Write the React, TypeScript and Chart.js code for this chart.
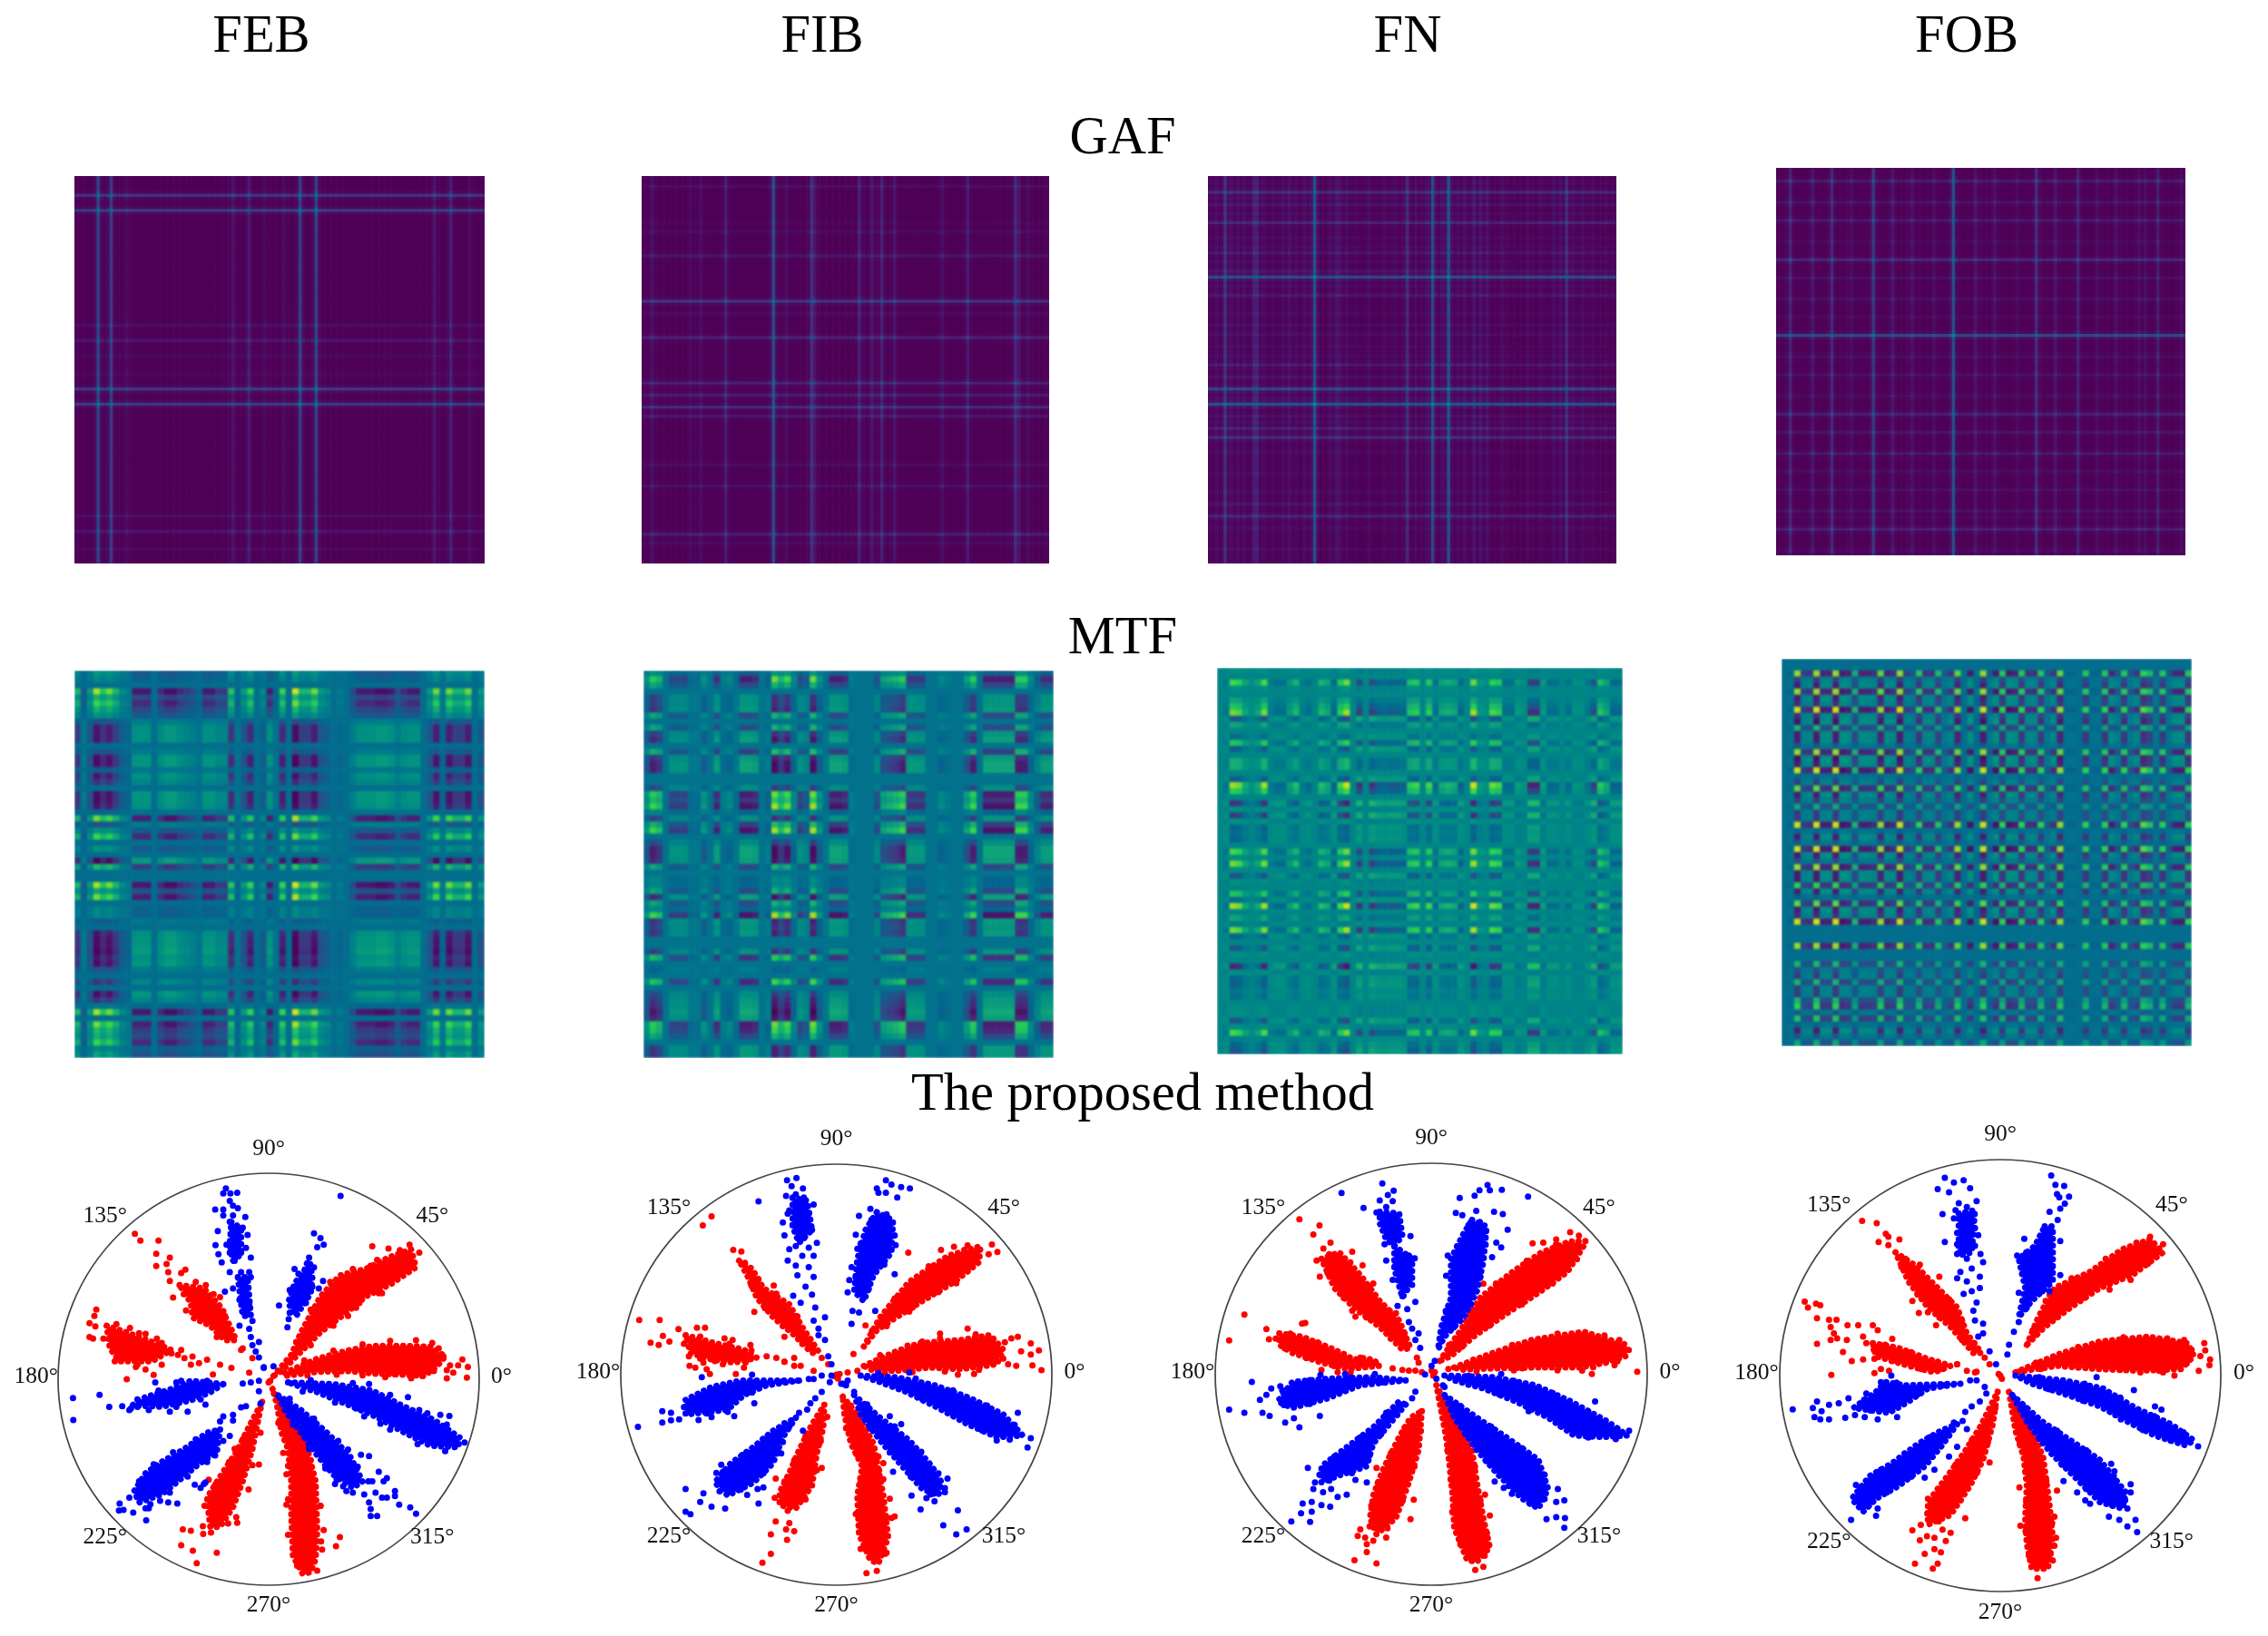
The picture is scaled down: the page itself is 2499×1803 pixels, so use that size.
import React, { useEffect, useRef } from "react";
import { Chart, registerables } from "chart.js";
Chart.register(...registerables);

type Pair = number[];
type Line = number[];

// ---- text -------------------------------------------------------------
const columnTitles = ["FEB", "FIB", "FN", "FOB"];
const rowTitles = ["GAF", "MTF", "The proposed method"];
const polarTickLabels = ["0°", "45°", "90°", "135°", "180°", "225°", "270°", "315°"];
const polarTickX = [1.105, 0.777, 0, -0.777, -1.105, -0.777, 0, 0.777];
const polarTickY = [0.01, 0.79, 1.118, 0.79, 0.01, -0.77, -1.098, -0.77];

// ---- GAF: [cell index of a bright line, strength], 128 x 128 cells ------
const GAF_SIZE = 128;
const gafGains = [0.85, 0.85, 1.1, 0.9];
const febGafCols: Line[] = [[7,.25],[11,.22],[16,.05],[49,.1],[54,.13],[59,.05],[65,.05],[70,.25],[75,.25],[112,.1],[117,.14],[123,.06]];
const febGafRows: Line[] = [[6,.2],[11,.22],[49,.07],[54,.1],[59,.04],[65,.04],[70,.22],[75,.22],[112,.07],[117,.1],[123,.04]];
const fibGafCols: Line[] = [[3,.08],[15,.04],[18,.06],[26,.13],[41,.27],[45,.06],[53,.18],[54,.1],[68,.14],[72,.1],[75,.14],[79,.1],[94,.08],[102,.12],[117,.16],[118,.1],[121,.05]];
const fibGafRows: Line[] = [[3,.06],[15,.03],[18,.05],[26,.1],[41,.2],[45,.05],[53,.14],[68,.14],[72,.12],[76,.16],[79,.1],[95,.06],[102,.08],[118,.13],[121,.05]];
const fnGafCols: Line[] = [[2,.04],[5,.14],[7,.05],[9,.05],[11,.05],[14,.1],[15,.1],[17,.04],[20,.03],[23,.04],[25,.06],[27,.03],[30,.04],[33,.22],[38,.04],[40,.07],[41,.05],[43,.04],[46,.02],[50,.04],[55,.03],[58,.03],[62,.12],[65,.03],[68,.04],[70,.2],[73,.05],[75,.22],[78,.04],[80,.06],[83,.08],[85,.07],[87,.06],[92,.04],[100,.03],[104,.03],[108,.05],[110,.05],[112,.12],[114,.04],[117,.04],[120,.03],[124,.02]];
const fnGafRows: Line[] = [[2,.03],[5,.12],[7,.03],[9,.06],[12,.03],[15,.1],[20,.03],[23,.03],[25,.07],[28,.03],[31,.06],[33,.2],[36,.03],[39,.07],[45,.03],[49,.03],[52,.04],[56,.03],[59,.03],[62,.08],[66,.05],[70,.18],[73,.03],[75,.22],[79,.05],[81,.03],[83,.09],[86,.12],[91,.03],[98,.03],[104,.03],[108,.05],[112,.1],[116,.03],[123,.03]];
const fobGafCols: Line[] = [[4,.14],[11,.1],[17,.15],[23,.06],[30,.2],[36,.1],[42,.08],[49,.06],[55,.27],[62,.09],[68,.08],[75,.05],[81,.16],[87,.09],[94,.13],[100,.06],[106,.07],[113,.07],[115,.06],[119,.12],[126,.04]];
const fobGafRows: Line[] = [[4,.11],[11,.08],[17,.1],[24,.04],[30,.14],[36,.06],[43,.06],[49,.03],[55,.24],[62,.06],[68,.07],[75,.05],[81,.12],[87,.08],[94,.1],[100,.05],[106,.06],[113,.07],[115,.03],[119,.12],[126,.04]];

// ---- MTF: signed brightness of every column / row (tenths), 64 x 64 cells
const febMtfCols = [5,-2,3,9,6,8,5,2,1,-6,-6,-6,0,-5,-7,-7,-5,-4,-3,-1,-6,-6,-4,-4,6,-1,3,7,0,2,-6,-1,7,0,10,5,5,8,3,2,0,1,0,-3,-6,-6,-6,-7,-7,-6,-3,-5,-6,-6,0,3,8,1,8,5,5,8,0,3];
const febMtfRows = [3,2,0,10,5,8,5,3,-3,-7,-7,-7,0,-3,-8,-8,-2,-7,-5,0,-8,-8,-7,-1,9,-3,3,8,0,3,0,-9,6,0,0,10,4,9,0,2,2,-2,0,-7,-8,-8,-9,-7,-8,-3,0,-5,0,-8,-5,1,10,0,9,6,5,8,2,4];
const fibMtfCols = [3,8,6,0,-5,-5,-5,-1,-1,3,0,-7,1,2,-1,-8,-8,-7,0,-2,10,6,9,2,-5,-3,10,3,-1,-8,-8,-7,1,0,0,0,-4,4,5,6,8,-6,-6,-6,0,0,2,1,0,0,4,8,0,-8,-8,-8,-8,-8,8,8,2,-3,-7,-7];
const fibMtfRows = [3,9,5,0,-6,-6,-7,5,0,5,-6,-8,0,6,-7,-9,-9,0,0,-5,9,7,10,2,-6,6,10,0,-5,-9,-9,-8,5,0,2,2,5,-8,5,2,10,-7,-6,-7,0,0,-6,7,0,-2,0,8,0,-5,-7,-8,-10,-8,9,8,5,0,-7,-7];
const fnMtfCols = [0,-2,9,8,3,1,3,9,-1,-3,-3,2,5,-1,-3,0,5,3,-4,7,10,0,-8,0,-8,-5,-4,-5,-5,-4,6,7,0,7,-3,3,4,3,-4,0,10,2,1,8,7,-3,-3,2,1,-9,-9,2,-3,-3,0,-3,1,1,-2,-7,6,3,-4,-4];
const fnMtfRows = [1,0,8,1,0,3,6,9,-6,3,0,-3,6,-5,0,4,4,0,-5,10,7,0,-9,1,-8,1,-4,-3,-4,0,8,1,9,1,-6,1,0,6,-3,10,0,3,-1,9,-4,0,-6,1,0,-10,1,-4,-5,-2,-3,0,1,1,-6,1,8,-1,-4,-6];
const fobMtfCols = [0,-1,10,-4,-5,10,-6,-6,10,-7,-6,5,-6,-6,-5,9,-6,-5,10,-4,-3,7,-5,-5,6,-2,-5,9,0,-7,1,10,-2,-7,7,-7,-6,7,-5,-5,7,-2,-5,9,-1,-1,0,7,-1,-1,7,-6,-3,7,-3,-5,8,6,-2,7,-2,-6,-6,7];
const fobMtfRows = [0,0,9,-4,-6,9,-6,-5,10,-5,-7,5,-6,-6,-2,9,-7,-6,10,-1,-4,8,-6,-4,4,-4,-4,10,-1,-6,-2,10,-6,-3,9,-6,-6,7,-6,-1,8,-6,-5,10,0,0,0,9,0,0,5,-3,-4,5,-4,-4,5,7,-2,6,-1,-6,-2,4];
const mtfBaseLevels = [0.37, 0.39, 0.46, 0.37];
const mtfGains = [1, 0.85, 0.8, 0.95];

// ---- scatter: unit circle spans +-rx, +-ry; shapes are dense cores, dots are single samples
const febRadius = [650, 635];
const febRedShapes: Pair[][] = [
 [[50,20],[150,63],[250,90],[330,103],[420,103],[500,100],[545,70],[520,40],[480,10],[400,15],[330,17],[250,25],[150,23],[50,10]],
 [[15,10],[70,75],[100,145],[160,255],[220,320],[300,340],[370,375],[440,400],[455,345],[380,295],[300,255],[240,205],[160,145],[100,85],[40,25]],
 [[12,-30],[50,-95],[110,-175],[145,-315],[150,-465],[145,-555],[130,-595],[105,-600],[75,-545],[70,-415],[70,-315],[60,-215],[40,-165],[25,-75]],
 [[-20,-70],[-30,-115],[-50,-215],[-80,-315],[-110,-395],[-150,-455],[-180,-455],[-185,-415],[-190,-365],[-140,-285],[-100,-225],[-60,-145]],
 [[-275,290],[-200,280],[-150,225],[-120,165],[-100,120],[-135,120],[-180,165],[-235,190],[-240,235]],
 [[-500,165],[-440,145],[-360,115],[-300,90],[-360,55],[-460,55],[-490,95]],
];
const febRedDots: Pair[] = [[598,61],[615,38],[585,43],[560,43],[550,28],[570,20],[612,5],[550,3],[525,95],[540,70],[510,25],[475,10],[390,15],[320,410],[370,403],[315,350],[435,415],[465,390],[350,265],[245,195],[280,235],[220,-487],[208,-515],[165,-525],[170,-465],[160,-390],[55,-387],[55,-293],[60,-267],[45,-227],[120,-200],[-265,-463],[-240,-467],[-203,-453],[-202,-477],[-178,-473],[-270,-512],[-234,-529],[-160,-535],[-222,-567],[-97,-443],[-30,-263],[-185,-310],[-105,-215],[-413,448],[-396,427],[-340,427],[-347,387],[-305,375],[-347,349],[-315,355],[-310,330],[-305,303],[-270,327],[-257,338],[-194,290],[-295,252],[-150,253],[-140,210],[-80,95],[-50,65],[-60,20],[-172,15],[-85,90],[-532,215],[-538,195],[-553,173],[-535,163],[-553,130],[-542,125],[-428,158],[-380,140],[-345,125],[-270,90],[-235,70],[-190,60],[-240,45],[-215,50],[-150,45],[-115,35],[-405,45],[-380,30],[-355,13],[-438,0],[-300,80],[-260,65],[0,-10],[5,-5]];
const febRedEdge: Pair[] = [[110,58],[200,88],[290,108],[375,118],[455,120],[505,112],[440,3],[360,6],[290,12],[210,14],[120,12],[85,115],[130,215],[190,300],[260,340],[335,368],[405,398],[420,340],[340,265],[270,220],[200,165],[130,105],[85,-150],[130,-250],[160,-390],[162,-500],[60,-480],[60,-370],[65,-265],[30,-135],[88,-575],[150,-590],[-25,-165],[-50,-265],[-62,-340],[-100,-425],[-125,-445],[-198,-390],[-165,-325],[-122,-255],[-80,-185],[-225,300],[-170,262],[-135,195],[-115,130],[-160,130],[-205,190],[-255,212],[-262,262],[-470,170],[-400,142],[-330,112],[-280,75],[-330,45],[-410,38],[-475,55],[-510,125]];
const febBlueShapes: Pair[][] = [
 [[60,-10],[200,-15],[320,-35],[420,-85],[510,-125],[590,-180],[585,-210],[500,-205],[420,-165],[330,-115],[260,-85],[150,-40]],
 [[30,-50],[100,-95],[180,-165],[250,-235],[290,-315],[260,-335],[200,-295],[150,-235],[100,-165],[50,-95]],
 [[-150,-155],[-160,-225],[-220,-265],[-280,-315],[-330,-355],[-400,-380],[-415,-345],[-380,-290],[-330,-255],[-260,-215],[-190,-165]],
 [[-140,-15],[-240,-5],[-300,-30],[-380,-55],[-420,-80],[-330,-85],[-240,-65],[-180,-40]],
 [[-115,485],[-85,465],[-85,385],[-110,365],[-120,415]],
 [[-95,315],[-65,315],[-55,195],[-80,195]],
 [[125,375],[135,315],[130,265],[85,195],[60,235],[80,295],[110,335]],
];
const febBlueDots: Pair[] = [[310,-15],[430,-55],[490,-105],[530,-110],[558,-113],[345,-137],[270,-90],[210,-310],[205,-323],[240,-345],[260,-350],[295,-355],[320,-315],[330,-350],[310,-380],[315,-400],[315,-422],[335,-422],[340,-285],[365,-305],[355,-315],[390,-345],[365,-365],[350,-365],[390,-360],[403,-387],[437,-395],[455,-415],[285,-233],[310,-237],[245,-217],[125,-205],[-460,-383],[-462,-405],[-448,-403],[-418,-411],[-380,-398],[-370,-398],[-378,-435],[-335,-375],[-282,-383],[-310,-380],[-228,-325],[-200,-323],[-195,-318],[-210,-335],[-140,-115],[-110,-110],[-110,-127],[-150,-130],[-120,-175],[-165,-235],[-604,-58],[-603,-126],[-522,-48],[-492,-85],[-452,-83],[-425,-90],[-405,-85],[-350,-10],[-285,-10],[-305,-100],[-250,-100],[-195,-78],[-80,-13],[-55,-10],[-30,-5],[-30,-37],[-15,35],[15,40],[-70,-83],[-85,-87],[-25,-75],[-132,588],[-140,573],[-118,573],[-97,575],[-120,550],[-110,535],[-95,527],[-165,523],[-140,523],[-140,505],[-110,505],[-72,500],[-120,485],[-157,457],[-100,467],[-80,467],[-115,450],[-65,445],[-100,435],[-164,413],[-130,415],[-100,410],[-70,405],[-155,385],[-120,390],[-85,390],[-55,375],[-145,360],[-105,365],[-120,330],[-85,330],[-60,330],[-80,305],[-55,315],[-110,280],[-135,270],[-80,275],[-90,245],[-60,230],[-75,205],[-50,180],[-90,165],[-60,155],[-55,130],[-30,115],[-50,105],[-40,85],[-30,67],[-15,37],[222,565],[140,450],[160,435],[150,407],[170,415],[80,340],[168,303],[155,280],[32,227],[62,185],[58,160],[80,215]];
const febBlueEdge: Pair[] = [[130,-3],[260,-12],[375,-48],[465,-95],[550,-140],[605,-195],[545,-222],[460,-200],[375,-155],[295,-115],[205,-72],[105,-38],[65,-60],[140,-122],[215,-190],[275,-270],[308,-315],[230,-330],[175,-275],[125,-215],[75,-140],[-140,-190],[-190,-255],[-250,-300],[-305,-350],[-365,-385],[-430,-365],[-400,-315],[-355,-262],[-295,-225],[-225,-185],[-190,-5],[-270,-5],[-340,-35],[-405,-62],[-430,-95],[-370,-95],[-285,-85],[-210,-62],[140,345],[135,285],[115,235],[65,205],[65,275],[92,325]];

const fibRadius = [665, 650];
const fibRedShapes: Pair[][] = [
 [[85,27],[185,72],[255,97],[385,107],[475,122],[515,77],[495,32],[385,17],[285,22],[185,12],[115,12]],
 [[85,87],[135,177],[225,287],[345,367],[445,397],[440,347],[365,287],[265,227],[185,177],[125,137]],
 [[20,-68],[65,-123],[115,-213],[145,-373],[160,-503],[130,-583],[105,-573],[70,-493],[65,-373],[80,-283],[45,-213],[25,-123]],
 [[-37,-93],[-40,-163],[-60,-243],[-75,-343],[-125,-413],[-175,-403],[-175,-363],[-145,-303],[-115,-233],[-75,-153]],
 [[-300,352],[-260,327],[-225,267],[-145,217],[-105,147],[-55,72],[-75,67],[-135,127],[-195,177],[-245,237],[-275,307]],
 [[-465,122],[-375,97],[-285,77],[-245,52],[-315,37],[-385,47],[-450,67]],
];
const fibRedDots: Pair[] = [[320,127],[405,142],[265,102],[540,112],[560,117],[600,97],[625,75],[570,72],[600,62],[605,29],[633,14],[555,27],[530,32],[425,2],[375,0],[225,7],[53,64],[65,12],[35,7],[222,377],[323,385],[363,395],[405,399],[480,402],[497,379],[90,152],[370,282],[235,207],[93,-613],[125,-606],[150,-553],[75,-538],[170,-443],[180,-438],[165,-383],[145,-273],[145,-323],[130,-253],[-187,-321],[-187,-453],[-145,-458],[-155,-478],[-130,-483],[-202,-493],[-152,-510],[-202,-553],[-228,-581],[-45,-288],[-385,489],[-412,461],[-318,385],[-293,380],[-193,275],[-253,194],[-160,117],[-45,52],[-25,32],[-70,12],[-130,27],[-160,40],[-130,52],[-110,27],[-608,169],[-545,169],[-573,99],[-548,92],[-535,120],[-515,102],[-487,141],[-430,145],[-405,145],[-345,112],[-320,107],[-265,92],[-453,27],[-435,22],[-410,37],[-390,2],[-400,17],[-375,42],[-310,2],[-285,22],[-215,57],[-185,52],[-160,40],[-455,57],[0,0],[10,2],[-5,-5],[5,-12]];
const fibRedEdge: Pair[] = [[135,60],[220,90],[320,112],[430,125],[520,100],[515,50],[440,15],[335,10],[235,8],[150,5],[110,135],[180,235],[285,335],[395,385],[470,372],[405,320],[315,255],[225,195],[155,150],[45,-95],[92,-170],[132,-295],[155,-440],[155,-550],[90,-535],[60,-430],[75,-330],[62,-245],[30,-165],[-28,-130],[-48,-205],[-60,-295],[-95,-385],[-150,-420],[-190,-380],[-160,-330],[-130,-265],[-95,-190],[-282,345],[-240,295],[-185,250],[-120,180],[-80,110],[-105,95],[-165,150],[-220,205],[-262,275],[-420,118],[-330,95],[-262,75],[-280,38],[-350,32],[-420,50],[-470,95]];
const fibBlueShapes: Pair[][] = [
 [[75,-3],[185,-8],[305,-33],[415,-73],[515,-123],[575,-188],[495,-193],[405,-153],[315,-103],[215,-53],[135,-23]],
 [[55,-63],[135,-133],[225,-203],[295,-283],[325,-333],[315,-373],[265,-353],[195,-273],[135,-203],[75,-123]],
 [[-125,-133],[-165,-193],[-195,-273],[-255,-333],[-335,-373],[-375,-333],[-325,-273],[-255,-223],[-195,-173]],
 [[-115,-18],[-215,-33],[-285,-63],[-335,-108],[-465,-123],[-465,-78],[-385,-38],[-295,-18]],
 [[-135,547],[-90,537],[-75,447],[-115,407],[-135,457]],
 [[125,502],[175,477],[170,377],[115,307],[85,227],[55,257],[65,357],[90,447]],
];
const fibBlueDots: Pair[] = [[560,-118],[600,-196],[590,-225],[495,-203],[225,7],[35,-18],[15,-28],[343,-321],[335,-363],[303,-391],[278,-381],[232,-373],[260,-416],[375,-419],[330,-465],[370,-493],[402,-478],[175,-300],[200,-153],[165,-128],[20,-28],[30,-33],[55,-53],[-355,-278],[-370,-303],[-465,-353],[-410,-366],[-420,-393],[-385,-408],[-343,-413],[-465,-423],[-450,-431],[-240,-398],[-243,-353],[-225,-348],[-275,-371],[-170,-243],[-165,-208],[-103,-173],[-80,-88],[-45,-53],[-65,-73],[-90,-108],[-115,-118],[-612,-161],[-537,-113],[-537,-148],[-510,-118],[-510,-141],[-485,-138],[-425,-140],[-385,-131],[-315,-128],[-253,-88],[-415,-8],[-260,0],[-70,-13],[-85,-13],[-45,-3],[-15,-3],[-20,-23],[-152,600],[-123,607],[-138,582],[-103,575],[-155,552],[-125,557],[-100,547],[-70,525],[-115,522],[-145,507],[-85,497],[-150,497],[-165,470],[-135,462],[-90,467],[-115,452],[-75,447],[-160,430],[-100,422],[-60,407],[-125,397],[-85,392],[-145,387],[-150,352],[-105,367],[-70,367],[-125,337],[-85,332],[-120,307],[-70,302],[-95,272],[-133,244],[-75,247],[-110,222],[-65,207],[-35,177],[-70,167],[-55,142],[-55,122],[-35,107],[-25,57],[-15,32],[-240,535],[153,600],[170,587],[125,575],[130,562],[153,562],[200,579],[227,575],[188,547],[105,512],[70,490],[60,432],[65,389],[183,400],[180,310],[40,292],[47,332],[35,254],[120,197],[50,197],[70,192],[47,157]];
const fibBlueEdge: Pair[] = [[130,5],[245,-12],[360,-48],[465,-95],[550,-155],[535,-200],[450,-172],[360,-125],[265,-75],[175,-35],[95,-92],[180,-160],[262,-238],[315,-305],[335,-350],[290,-370],[230,-315],[165,-240],[105,-165],[-145,-160],[-180,-230],[-225,-305],[-295,-355],[-360,-360],[-350,-300],[-290,-248],[-225,-198],[-160,-150],[-165,-20],[-250,-22],[-320,-42],[-400,-70],[-470,-100],[-400,-120],[-335,-115],[-260,-55],[155,495],[180,430],[148,340],[100,265],[60,300],[75,405],[108,478]];

const fnRadius = [667, 651];
const fnRedShapes: Pair[][] = [
 [[71,21],[191,66],[311,106],[471,131],[601,91],[601,56],[541,36],[461,21],[321,21],[191,18],[91,14]],
 [[26,41],[91,136],[151,236],[251,316],[341,376],[431,411],[471,396],[421,316],[331,251],[231,186],[131,116],[61,56]],
 [[16,-34],[71,-144],[126,-234],[141,-334],[161,-444],[181,-534],[141,-579],[111,-574],[71,-474],[66,-374],[56,-274],[46,-194]],
 [[-29,-114],[-39,-234],[-69,-334],[-109,-444],[-169,-494],[-189,-444],[-179,-374],[-149,-294],[-99,-194],[-64,-134]],
 [[-339,356],[-284,376],[-219,306],[-159,226],[-99,166],[-64,81],[-89,76],[-159,146],[-239,206],[-299,266]],
 [[-469,126],[-399,116],[-299,76],[-239,46],[-179,46],[-159,26],[-259,16],[-339,36],[-429,66],[-469,91]],
];
const fnRedDots: Pair[] = [[636,8],[496,1],[466,11],[566,28],[581,106],[53,16],[281,18],[429,438],[456,428],[476,411],[313,404],[346,406],[386,416],[161,279],[136,-604],[161,-594],[166,-372],[181,-436],[129,-217],[176,-529],[-219,-479],[-227,-499],[-204,-504],[-139,-504],[-179,-514],[-199,-524],[-199,-549],[-237,-574],[-169,-584],[-64,-447],[-54,-387],[-169,-289],[-407,478],[-345,459],[-364,431],[-311,406],[-333,388],[-244,378],[-212,336],[-179,280],[-344,301],[-354,351],[-234,178],[-244,196],[-109,188],[-44,51],[-39,36],[-577,184],[-509,139],[-501,108],[-624,104],[-399,156],[-389,158],[-339,13],[-289,6],[-249,6],[-119,18],[-89,13],[-69,11],[-49,11],[-29,6],[-219,51],[1,11],[11,6],[6,-4]];
const fnRedEdge: Pair[] = [[130,45],[250,90],[390,125],[535,120],[610,75],[575,40],[500,22],[390,12],[255,12],[140,8],[55,90],[120,190],[200,280],[295,350],[385,400],[455,410],[450,355],[375,280],[280,215],[180,150],[95,85],[42,-90],[100,-190],[135,-285],[152,-390],[172,-490],[165,-560],[90,-525],[65,-425],[60,-325],[50,-235],[-32,-175],[-52,-285],[-88,-390],[-135,-475],[-190,-470],[-185,-405],[-165,-335],[-125,-245],[-82,-165],[-315,370],[-250,345],[-190,268],[-128,195],[-82,125],[-125,110],[-200,175],[-270,235],[-320,312],[-435,125],[-350,98],[-270,62],[-210,50],[-300,25],[-385,50],[-452,80],[-480,110]];
const fnBlueShapes: Pair[][] = [
 [[41,-4],[191,-9],[321,-34],[431,-84],[541,-144],[606,-189],[531,-194],[441,-189],[361,-134],[261,-84],[161,-44],[71,-19]],
 [[41,-64],[141,-134],[231,-194],[331,-264],[361,-354],[331,-414],[281,-384],[201,-304],[141,-234],[71,-134]],
 [[-79,-94],[-129,-154],[-179,-214],[-199,-284],[-289,-314],[-339,-334],[-339,-284],[-259,-224],[-179,-164],[-99,-84]],
 [[-79,-19],[-219,-34],[-319,-74],[-429,-104],[-474,-84],[-429,-24],[-319,-14],[-179,-9]],
 [[-159,501],[-99,496],[-89,426],[-114,396],[-139,416],[-159,466]],
 [[-114,396],[-59,356],[-59,286],[-89,236],[-114,326]],
 [[126,476],[171,456],[161,346],[141,256],[101,176],[41,116],[21,76],[31,146],[61,236],[61,356],[101,436]],
];
const fnBlueDots: Pair[] = [[611,-174],[301,-114],[506,-84],[216,1],[391,-354],[411,-389],[386,-394],[356,-447],[386,-441],[413,-444],[411,-474],[196,-331],[224,-351],[249,-369],[131,-217],[41,-39],[36,-34],[-381,-289],[-359,-334],[-364,-354],[-334,-364],[-309,-354],[-289,-379],[-261,-372],[-339,-404],[-312,-409],[-369,-394],[-397,-399],[-402,-429],[-369,-424],[-432,-454],[-374,-456],[-234,-326],[-199,-334],[-139,-119],[-59,-74],[-49,-54],[-554,-24],[-624,-109],[-577,-119],[-521,-119],[-499,-129],[-451,-149],[-407,-164],[-424,-136],[-344,-129],[-529,-79],[-509,-64],[-494,-44],[-466,-37],[-342,-2],[-266,1],[-174,1],[-151,589],[-116,566],[-134,553],[-159,536],[-119,534],[-209,513],[-169,499],[-139,516],[-64,426],[-144,401],[-69,366],[-51,358],[-139,351],[-109,341],[-89,326],[-64,316],[-119,291],[-84,286],[-59,276],[-89,241],[-49,223],[-104,211],[-74,201],[-69,161],[-59,141],[-39,126],[-49,106],[-34,81],[-277,559],[174,584],[149,568],[218,569],[181,568],[134,551],[88,544],[299,548],[139,504],[76,498],[96,491],[194,501],[221,494],[236,446],[201,406],[216,391],[188,361],[46,304],[51,366],[11,41],[1,26],[-19,-1],[16,-14]];
const fnBlueEdge: Pair[] = [[115,-5],[255,-20],[375,-58],[485,-115],[575,-168],[570,-200],[485,-195],[400,-160],[310,-108],[210,-62],[115,-32],[90,-98],[185,-162],[280,-228],[350,-310],[350,-385],[305,-400],[240,-345],[170,-268],[105,-185],[-105,-125],[-155,-185],[-190,-250],[-245,-305],[-315,-328],[-345,-310],[-300,-255],[-220,-195],[-140,-125],[-150,-25],[-270,-50],[-375,-92],[-455,-95],[-460,-50],[-375,-18],[-250,-10],[150,470],[168,400],[152,300],[122,215],[70,145],[45,195],[62,295],[80,395],[115,460]];

const fobRadius = [680, 666];
const fobRedShapes: Pair[][] = [
 [[47,10],[177,65],[307,105],[457,120],[577,100],[597,60],[557,20],[427,15],[307,20],[177,30],[77,15]],
 [[82,95],[117,180],[167,270],[277,320],[377,390],[462,420],[502,380],[407,310],[307,270],[217,210],[137,150]],
 [[27,-50],[87,-140],[132,-250],[152,-400],[162,-500],[147,-595],[97,-595],[82,-520],[77,-440],[82,-340],[72,-250],[47,-170]],
 [[-8,-50],[-23,-150],[-53,-260],[-93,-340],[-153,-430],[-223,-460],[-223,-390],[-163,-310],[-113,-240],[-63,-160]],
 [[-323,380],[-263,340],[-183,260],[-133,210],[-103,130],[-58,70],[-83,70],[-153,150],[-223,210],[-283,290]],
 [[-393,100],[-313,85],[-233,55],[-153,30],[-203,10],[-283,30],[-383,60]],
];
const fobRedDots: Pair[] = [[629,100],[632,78],[617,60],[647,50],[645,32],[612,15],[567,110],[537,0],[502,10],[432,10],[502,405],[462,428],[402,295],[337,265],[187,260],[152,250],[115,-625],[172,-500],[167,-525],[167,-435],[175,-355],[59,-345],[62,-463],[162,-570],[-271,-477],[-245,-460],[-226,-495],[-248,-508],[-203,-500],[-178,-475],[-153,-485],[-168,-510],[-203,-535],[-233,-550],[-183,-545],[-263,-580],[-208,-595],[-193,-580],[-108,-440],[-163,-320],[-33,-268],[-223,-380],[-426,477],[-381,470],[-353,437],[-345,428],[-311,420],[-375,412],[-345,402],[-188,305],[-248,342],[-271,230],[-251,193],[-223,195],[-198,155],[-48,55],[-33,35],[-73,12],[-133,35],[-103,15],[-603,228],[-593,210],[-568,222],[-555,217],[-565,177],[-528,172],[-505,172],[-523,150],[-513,130],[-523,110],[-503,115],[-565,98],[-471,155],[-438,155],[-393,155],[-378,140],[-473,110],[-423,120],[-413,100],[-485,73],[-458,45],[-423,50],[-388,52],[-333,113],[-368,20],[-388,8],[-521,2],[-343,15],[-133,35],[-78,10],[0,0],[5,-10],[-5,5]];
const fobRedEdge: Pair[] = [[110,40],[240,88],[380,118],[515,115],[590,80],[575,38],[490,15],[370,18],[240,25],[125,20],[100,140],[140,230],[220,300],[325,360],[420,410],[455,345],[355,290],[260,240],[175,180],[110,125],[60,-95],[112,-195],[142,-325],[160,-455],[155,-550],[88,-555],[78,-480],[80,-390],[78,-295],[60,-210],[-15,-100],[-38,-205],[-72,-300],[-122,-385],[-190,-450],[-225,-425],[-192,-350],[-138,-275],[-88,-200],[-293,360],[-225,300],[-158,235],[-118,170],[-80,100],[-118,110],[-188,180],[-255,250],[-305,335],[-355,95],[-275,72],[-193,42],[-178,20],[-243,20],[-333,45],[-390,80]];
const fobBlueShapes: Pair[][] = [
 [[47,0],[197,-15],[317,-40],[417,-100],[527,-150],[597,-200],[572,-215],[477,-185],[407,-150],[307,-95],[207,-60],[97,-25]],
 [[37,-60],[127,-140],[217,-200],[307,-260],[387,-360],[377,-410],[307,-390],[227,-310],[157,-240],[87,-150]],
 [[-133,-150],[-183,-220],[-233,-280],[-313,-340],[-383,-380],[-423,-420],[-458,-380],[-403,-310],[-333,-270],[-253,-210],[-183,-170]],
 [[-123,-25],[-223,-40],[-283,-80],[-343,-115],[-453,-100],[-383,-50],[-353,-20],[-293,-30]],
 [[-128,500],[-78,510],[-88,380],[-128,370]],
 [[137,460],[162,460],[162,380],[162,290],[97,230],[57,180],[77,270],[57,360],[107,400]],
];
const fobBlueDots: Pair[] = [[610,-218],[412,-45],[372,-135],[477,-95],[497,-105],[297,-5],[342,-272],[352,-295],[402,-335],[402,-360],[417,-445],[422,-483],[392,-465],[367,-445],[335,-435],[262,-385],[277,-395],[237,-360],[195,-325],[392,-410],[-460,-445],[-383,-432],[-378,-410],[-445,-337],[-233,-315],[-203,-290],[-158,-250],[-133,-220],[-116,-140],[-143,-145],[-103,-165],[-108,-112],[-88,-95],[-63,-80],[-43,-55],[-48,-35],[-73,-15],[-93,-15],[-640,-104],[-578,-100],[-565,-80],[-573,-128],[-551,-110],[-555,-135],[-528,-135],[-528,-90],[-498,-85],[-478,-130],[-448,-122],[-418,-128],[-378,-135],[-318,-128],[-336,0],[-368,-20],[-468,-70],[-413,-55],[-171,610],[-113,602],[-193,575],[-158,565],[-143,595],[-93,578],[-128,532],[-73,538],[-178,498],[-138,510],[-103,520],[-83,500],[-143,485],[-103,480],[-78,455],[-133,440],[-68,433],[-171,412],[-133,405],[-98,415],[-78,400],[-133,375],[-61,375],[-103,360],[-53,350],[-123,320],[-88,330],[-63,305],[-133,300],[-103,290],[-63,270],[-113,252],[-88,260],[-73,225],[-83,200],[-53,160],[-78,170],[-53,130],[-68,120],[-33,75],[-13,35],[157,617],[170,588],[197,585],[175,560],[212,552],[182,550],[199,530],[185,515],[152,505],[177,480],[185,415],[74,422],[52,370],[185,310],[57,255],[42,135],[27,95],[22,65],[57,165],[82,210],[152,260]];
const fobBlueEdge: Pair[] = [[120,-5],[260,-25],[370,-68],[475,-125],[565,-175],[525,-200],[440,-168],[355,-122],[255,-78],[150,-42],[80,-100],[175,-170],[265,-230],[350,-310],[385,-385],[345,-400],[265,-350],[190,-275],[120,-195],[-158,-185],[-210,-250],[-275,-312],[-350,-360],[-405,-400],[-432,-345],[-368,-290],[-295,-240],[-218,-190],[-175,-30],[-255,-58],[-315,-98],[-400,-108],[-420,-75],[-368,-35],[-320,-22],[150,420],[160,335],[130,260],[78,205],[68,315],[80,380]];

// ---- page layout (left, top, right, bottom in page pixels) ---------------
const gafBoxes = [[82,194,534,621],[707,194,1156,621],[1331,194,1781,621],[1957,185,2408,612]];
const mtfBoxes = [[82,739,534,1166],[709,739,1161,1166],[1341,736,1788,1162],[1963,726,2415,1153]];
const polarCentres = [[296,1520],[921,1515],[1577,1514],[2204,1516]];
const polarPixelsPerUnit = 1 / 2.8;
const polarPad = 72;
const titleFont = "'Liberation Serif', serif";

// ---- colour map (image rendering) ----------------------------------------
const colourStops = [[0,78,0,86],[.08,76,16,104],[.15,72,40,122],[.25,40,78,136],[.33,5,100,142],[.42,0,122,140],[.5,0,145,130],[.6,20,170,118],[.75,40,212,80],[.88,190,225,25],[1,253,231,30]];
const colourLut: string[] = [];
for (let k = 0; k <= 255; k++) {
  const t = k / 255;
  let n = 1;
  while (n < colourStops.length - 1 && colourStops[n][0] < t) n++;
  const a = colourStops[n - 1], b = colourStops[n];
  const f = (t - a[0]) / (b[0] - a[0]);
  colourLut.push(`rgb(${Math.round(a[1] + (b[1] - a[1]) * f)},${Math.round(a[2] + (b[2] - a[2]) * f)},${Math.round(a[3] + (b[3] - a[3]) * f)})`);
}
const colourOf = (v: number) => colourLut[Math.max(0, Math.min(255, Math.round(v * 255)))];

function profileFromLines(lines: Line[], gain: number) {
  const out = new Array(GAF_SIZE).fill(0);
  lines.forEach(([i, s]) => {
    out[i] = Math.max(out[i], s * gain);
    if (i > 0) out[i - 1] = Math.max(out[i - 1], s * gain * 0.2);
    if (i < GAF_SIZE - 1) out[i + 1] = Math.max(out[i + 1], s * gain * 0.2);
  });
  return out;
}
const gafTable = (cols: Line[], rows: Line[], gain: number) => {
  const c = profileFromLines(cols, gain), r = profileFromLines(rows, gain);
  return { size: GAF_SIZE, blur: 0.7, value: (i: number, j: number) => c[i] + r[j] };
};
const mtfTable = (cols: number[], rows: number[], base: number, gain: number) => ({
  size: cols.length,
  blur: 1.2,
  value: (i: number, j: number) => {
    const p = (cols[i] / 10) * (rows[j] / 10);
    const k = p > 0 ? (cols[i] < 0 ? 0.3 : 0.55) : 0.45;
    return base + gain * k * p;
  },
});

function Heatmap({ box, table }: { box: number[]; table: { size: number; blur: number; value: (i: number, j: number) => number } }) {
  const ref = useRef<HTMLCanvasElement>(null);
  const w = box[2] - box[0], h = box[3] - box[1];
  useEffect(() => {
    const n = table.size;
    const data: { x: number; y: number }[] = [];
    const colours: string[] = [];
    for (let j = 0; j < n; j++) for (let i = 0; i < n; i++) {
      data.push({ x: i + 0.5, y: j + 0.5 });
      colours.push(colourOf(table.value(i, j)));
    }
    const side = Math.max(w, h) / n + 0.6;
    const chart = new Chart(ref.current!, {
      type: "scatter",
      data: { datasets: [{ data, pointStyle: "rect", pointRadius: side / Math.SQRT2, pointBorderWidth: 0, pointBackgroundColor: colours, parsing: false, normalized: true } as any] },
      options: {
        animation: false, responsive: false, events: [], layout: { padding: 0, autoPadding: false },
        plugins: { legend: { display: false }, tooltip: { enabled: false } },
        scales: { x: { display: false, min: 0, max: n }, y: { display: false, min: 0, max: n, reverse: true } },
      },
    });
    return () => chart.destroy();
  }, []);
  return (
    <div style={{ position: "absolute", left: box[0], top: box[1], width: w, height: h, overflow: "hidden" }}>
      <canvas ref={ref} width={w} height={h} style={{ display: "block", width: w, height: h, filter: `blur(${table.blur}px)` }} />
    </div>
  );
}

const toPoints = (list: Pair[]) => list.map(([x, y]) => ({ x, y }));

function Polar({ centre, radius, redShapes, redDots, blueShapes, blueDots }: { centre: number[]; radius: number[]; redShapes: Pair[][]; redDots: Pair[]; blueShapes: Pair[][]; blueDots: Pair[] }) {
  const ref = useRef<HTMLCanvasElement>(null);
  const areaW = Math.round(radius[0] * 2 * polarPixelsPerUnit), areaH = Math.round(radius[1] * 2 * polarPixelsPerUnit);
  const W = areaW + polarPad * 2, H = areaH + polarPad * 2;
  useEffect(() => {
    const shape = (s: Pair[], colour: string) => ({ data: toPoints([...s, s[0]]), showLine: true, fill: "shape", borderColor: colour, backgroundColor: colour, borderWidth: 7, borderDash: [0.01, 7.5], borderCapStyle: "round", borderJoinStyle: "round", pointRadius: 0, tension: 0 });
    const dots = (d: Pair[], colour: string) => ({ data: toPoints(d), pointRadius: 3.5, pointBorderWidth: 0, pointBackgroundColor: colour, showLine: false });
    const frame = {
      id: "polarFrame",
      beforeDatasetsDraw(c: any) {
        const { x, y } = c.scales, ctx = c.ctx;
        ctx.save();
        ctx.strokeStyle = "#444444";
        ctx.lineWidth = 1.7;
        ctx.beginPath();
        ctx.ellipse(x.getPixelForValue(0), y.getPixelForValue(0), (x.right - x.left) / 2, (y.bottom - y.top) / 2, 0, 0, Math.PI * 2);
        ctx.stroke();
        ctx.restore();
      },
      afterDraw(c: any) {
        const { x, y } = c.scales, ctx = c.ctx;
        ctx.save();
        ctx.fillStyle = "#111111";
        ctx.font = `25.5px ${titleFont}`;
        ctx.textAlign = "center";
        ctx.textBaseline = "middle";
        polarTickLabels.forEach((t, k) => ctx.fillText(t, x.getPixelForValue(polarTickX[k] * radius[0]), y.getPixelForValue(polarTickY[k] * radius[1])));
        ctx.restore();
      },
    };
    const chart = new Chart(ref.current!, {
      type: "scatter",
      data: { datasets: [
        ...blueShapes.map((s) => shape(s, "#0000ff")),
        dots(blueDots, "#0000ff"),
        ...redShapes.map((s) => shape(s, "#ff0000")),
        dots(redDots, "#ff0000"),
      ] as any },
      options: {
        animation: false, responsive: false, events: [], layout: { padding: polarPad, autoPadding: false },
        plugins: { legend: { display: false }, tooltip: { enabled: false } },
        scales: { x: { display: false, min: -radius[0], max: radius[0] }, y: { display: false, min: -radius[1], max: radius[1] } },
      },
      plugins: [frame],
    });
    return () => chart.destroy();
  }, []);
  return <canvas ref={ref} width={W} height={H} style={{ position: "absolute", left: centre[0] - W / 2, top: centre[1] - H / 2, width: W, height: H, filter: "blur(0.5px)" }} />;
}

const titleStyle = (x: number, y: number, size = 58.5): React.CSSProperties => ({ position: "absolute", left: x, top: y, transform: "translate(-50%,-50%)", fontFamily: titleFont, fontSize: size, lineHeight: 1, color: "#000", whiteSpace: "nowrap" });
const columnTitleX = [288, 906, 1551, 2167];
const rowTitleAnchors = [[1237, 150], [1237, 701], [1259, 1204]];

const gafTables = [gafTable(febGafCols, febGafRows, gafGains[0]), gafTable(fibGafCols, fibGafRows, gafGains[1]), gafTable(fnGafCols, fnGafRows, gafGains[2]), gafTable(fobGafCols, fobGafRows, gafGains[3])];
const mtfTables = [mtfTable(febMtfCols, febMtfRows, mtfBaseLevels[0], mtfGains[0]), mtfTable(fibMtfCols, fibMtfRows, mtfBaseLevels[1], mtfGains[1]), mtfTable(fnMtfCols, fnMtfRows, mtfBaseLevels[2], mtfGains[2]), mtfTable(fobMtfCols, fobMtfRows, mtfBaseLevels[3], mtfGains[3])];
const polarPanels = [
  { radius: febRadius, redShapes: febRedShapes, redDots: [...febRedDots, ...febRedEdge], blueShapes: febBlueShapes, blueDots: [...febBlueDots, ...febBlueEdge] },
  { radius: fibRadius, redShapes: fibRedShapes, redDots: [...fibRedDots, ...fibRedEdge], blueShapes: fibBlueShapes, blueDots: [...fibBlueDots, ...fibBlueEdge] },
  { radius: fnRadius, redShapes: fnRedShapes, redDots: [...fnRedDots, ...fnRedEdge], blueShapes: fnBlueShapes, blueDots: [...fnBlueDots, ...fnBlueEdge] },
  { radius: fobRadius, redShapes: fobRedShapes, redDots: [...fobRedDots, ...fobRedEdge], blueShapes: fobBlueShapes, blueDots: [...fobBlueDots, ...fobBlueEdge] },
];

export default function App() {
  return (
    <div style={{ position: "absolute", left: 0, top: 0, width: 2499, height: 1803, background: "#fff", overflow: "hidden" }}>
      {columnTitles.map((t, i) => <div key={t} style={titleStyle(columnTitleX[i], 38)}>{t}</div>)}
      {rowTitles.map((t, i) => <div key={t} style={titleStyle(rowTitleAnchors[i][0], rowTitleAnchors[i][1])}>{t}</div>)}
      {gafBoxes.map((b, i) => <Heatmap key={"g" + i} box={b} table={gafTables[i]} />)}
      {mtfBoxes.map((b, i) => <Heatmap key={"m" + i} box={b} table={mtfTables[i]} />)}
      {polarPanels.map((p, i) => <Polar key={"p" + i} centre={polarCentres[i]} {...p} />)}
    </div>
  );
}
